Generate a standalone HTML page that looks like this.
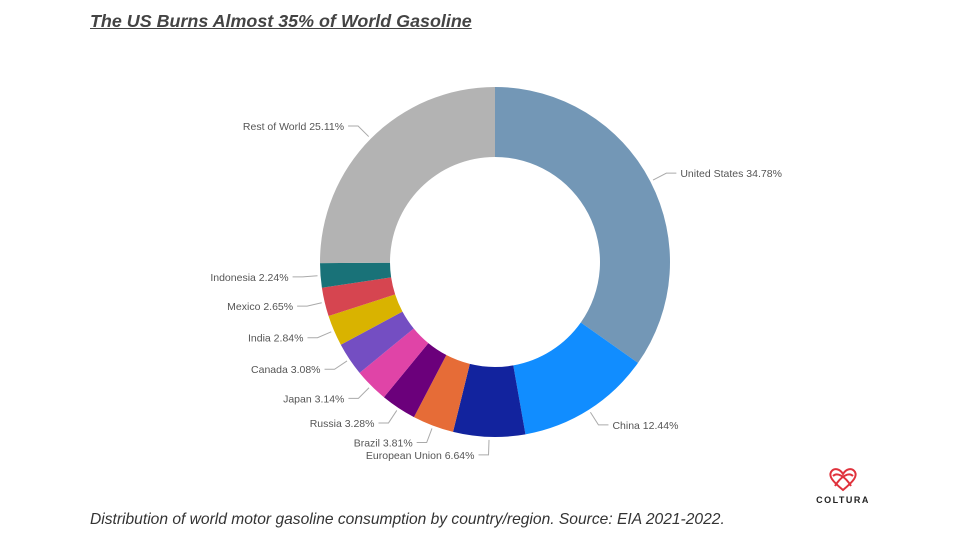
<!DOCTYPE html>
<html><head><meta charset="utf-8"><style>
body{margin:0;width:960px;height:540px;background:#fff;overflow:hidden;font-family:"Liberation Sans",sans-serif;}
#title{position:absolute;left:90px;top:11px;font-size:17.9px;font-weight:bold;font-style:italic;text-decoration:underline;color:#444;margin:0}
#caption{position:absolute;left:90px;top:511px;font-size:15.6px;font-style:italic;color:#333;margin:0}
</style></head><body>
<h1 id="title">The US Burns Almost 35% of World Gasoline</h1>
<svg id="chart" width="960" height="540" style="position:absolute;left:0;top:0"></svg>
<div style="position:absolute;left:808px;top:466px;width:70px;text-align:center">
<svg width="36" height="26" viewBox="0 0 36 26"><path d="M18 24 C6 14 4 10 6 6 C9 1 15 3 18 8 C21 3 27 1 30 6 C32 10 30 14 18 24 Z M10 20 C16 10 24 6 28 10 M26 20 C20 10 12 6 8 10" fill="none" stroke="#e0323c" stroke-width="2"/></svg>
<div style="font-size:9px;font-weight:bold;letter-spacing:1.5px;color:#222;margin-top:-2px">COLTURA</div></div>
<p id="caption">Distribution of world motor gasoline consumption by country/region. Source: EIA 2021-2022.</p>
<script>
const categories=["United States","China","European Union","Brazil","Russia","Japan","Canada","India","Mexico","Indonesia","Rest of World"];
const values=[34.78,12.44,6.64,3.81,3.28,3.14,3.08,2.84,2.65,2.24,25.11];
const colors=["#7397b6","#118dff","#12239e","#e66c37","#6b007b","#e044a7","#744ec2","#d9b300","#d64550","#197278","#b3b3b3"];
const svg=document.getElementById('chart');const NS="http://www.w3.org/2000/svg";
const cx=495,cy=262,R=175,r=105;
const total=values.reduce((a,b)=>a+b,0);
function pt(rad,a){return [cx+rad*Math.sin(a),cy-rad*Math.cos(a)];}
let cum=0;
values.forEach((v,i)=>{
 const a0=cum/total*2*Math.PI,a1=(cum+v)/total*2*Math.PI;cum+=v;
 const large=(a1-a0)>Math.PI?1:0;
 const [x0,y0]=pt(R,a0),[x1,y1]=pt(R,a1),[x2,y2]=pt(r,a1),[x3,y3]=pt(r,a0);
 const p=document.createElementNS(NS,'path');
 p.setAttribute('d',`M${x0} ${y0}A${R} ${R} 0 ${large} 1 ${x1} ${y1}L${x2} ${y2}A${r} ${r} 0 ${large} 0 ${x3} ${y3}Z`);
 p.setAttribute('fill',colors[i]);
 
 
 svg.appendChild(p);
 const am=(a0+a1)/2;const [ex,ey]=pt(R+3,am);const [bx,by]=pt(R+18,am);
 const right=Math.sin(am)>=0;const hx=bx+(right?10:-10);
 const l=document.createElementNS(NS,'polyline');
 l.setAttribute('points',`${ex},${ey} ${bx},${by} ${hx},${by}`);
 l.setAttribute('fill','none');l.setAttribute('stroke','#aaa');l.setAttribute('stroke-width','1');
 
 
 svg.appendChild(l);
 const t=document.createElementNS(NS,'text');
 t.setAttribute('x',hx+(right?4:-4));t.setAttribute('y',by+4);
 t.setAttribute('text-anchor',right?'start':'end');
 t.setAttribute('font-size','10.5');t.setAttribute('fill','#555');
 t.setAttribute('font-family','Liberation Sans, sans-serif');
 t.textContent=categories[i]+' '+v.toFixed(2)+'%';
 
 
 svg.appendChild(t);
});
</script>
</body></html>
